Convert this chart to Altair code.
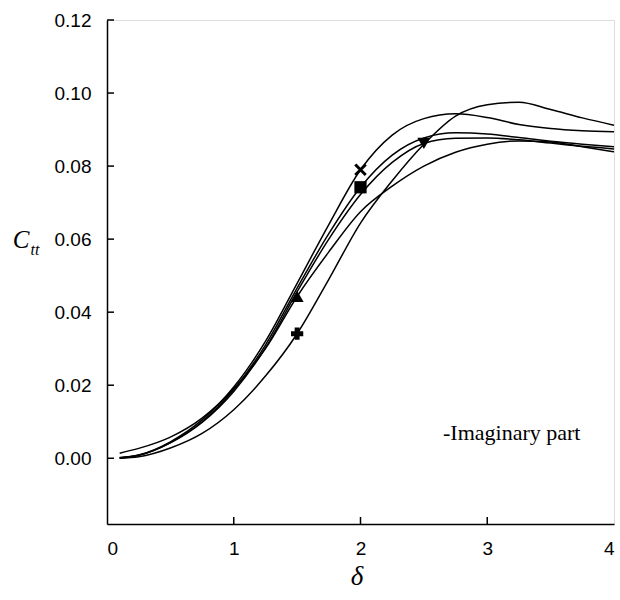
import altair as alt
import pandas as pd

# delta positions at which the curve values were read
x_grid = [0.1, 0.25, 0.5, 0.75, 1.0, 1.25, 1.5, 1.75, 2.0, 2.25, 2.5, 2.75, 3.0, 3.25, 3.5, 3.75, 4.0]

# curve values (Ctt) for each series
c_times = [0.0002, 0.0009, 0.0045, 0.0105, 0.0195, 0.0320, 0.0479, 0.0640, 0.0790, 0.0885, 0.0930, 0.0943, 0.0933, 0.0914, 0.0903, 0.0897, 0.0894]
c_square = [0.0001, 0.0008, 0.0043, 0.0100, 0.0188, 0.0310, 0.0466, 0.0615, 0.0742, 0.0830, 0.0877, 0.0891, 0.0888, 0.0878, 0.0868, 0.0860, 0.0853]
c_down = [0.0001, 0.0008, 0.0042, 0.0098, 0.0183, 0.0302, 0.0456, 0.0600, 0.0722, 0.0810, 0.0862, 0.0876, 0.0877, 0.0872, 0.0863, 0.0854, 0.0847]
c_up = [0.0014, 0.0027, 0.0058, 0.0110, 0.0190, 0.0300, 0.0443, 0.0565, 0.0675, 0.0745, 0.0800, 0.0838, 0.0860, 0.0869, 0.0866, 0.0853, 0.0839]
c_plus = [0.0000, 0.0004, 0.0028, 0.0068, 0.0133, 0.0225, 0.0341, 0.0490, 0.0644, 0.0760, 0.0860, 0.0937, 0.0968, 0.0975, 0.0955, 0.0932, 0.0912]

series_names = ["times", "square", "down", "up", "plus"]
series_vals = [c_times, c_square, c_down, c_up, c_plus]

# one marker per curve
marker_names = ["times", "square", "up", "down", "plus"]
marker_x = [2.0, 2.0, 1.5, 2.5, 1.5]
marker_y = [0.079, 0.0742, 0.0443, 0.0862, 0.0341]

x_ticks = [0, 1, 2, 3, 4]
y_ticks = [0.0, 0.02, 0.04, 0.06, 0.08, 0.10, 0.12]

W, H = 507, 504

rows = []
for name, vals in zip(series_names, series_vals):
    for xv, yv in zip(x_grid, vals):
        rows.append({"s": name, "x": xv, "y": yv})
lines_df = pd.DataFrame(rows)
mk_df = pd.DataFrame({"s": marker_names, "x": marker_x, "y": marker_y})

xs = alt.Scale(domain=[0, 4], nice=False)
ys = alt.Scale(domain=[-0.018, 0.12], nice=False, zero=False)

xaxis = alt.Axis(values=x_ticks, ticks=False, grid=False, title=None, format="d", labelFont="Liberation Sans",
                 labelFontSize=19, labelColor="black", labelPadding=15, domainColor="black", domainWidth=1.5)
yaxis = alt.Axis(values=y_ticks, ticks=False, grid=False, title=None, format=".2f", labelFont="Liberation Sans",
                 labelFontSize=19, labelColor="black", labelPadding=16, domainColor="black", domainWidth=1.5)

lines = alt.Chart(lines_df).mark_line(color="black", strokeWidth=1.5, interpolate="monotone").encode(
    x=alt.X("x:Q", scale=xs, axis=xaxis),
    y=alt.Y("y:Q", scale=ys, axis=yaxis),
    detail="s:N",
)

def marker(name, **kw):
    return alt.Chart(mk_df).transform_filter(alt.datum.s == name).mark_point(**kw).encode(
        x=alt.X("x:Q", scale=xs), y=alt.Y("y:Q", scale=ys))

m_times = marker("times", shape="M-1,-1L1,1M-1,1L1,-1", filled=False, stroke="black", strokeWidth=3, size=110, opacity=1)
m_square = marker("square", shape="square", filled=True, color="black", size=150, opacity=1)
m_up = marker("up", shape="triangle-up", filled=True, color="black", size=170, opacity=1)
m_down = marker("down", shape="triangle-down", filled=True, color="black", size=170, opacity=1)
m_plus = marker("plus", shape="cross", filled=True, color="black", size=150, opacity=1)

ytick_df = pd.DataFrame({"v": y_ticks})
xtick_df = pd.DataFrame({"v": x_ticks[1:-1]})
yt = alt.Chart(ytick_df).mark_rule(color="black", strokeWidth=1.5).encode(
    y=alt.Y("v:Q", scale=ys), x=alt.value(0), x2=alt.value(7))
xt = alt.Chart(xtick_df).mark_rule(color="black", strokeWidth=1.5).encode(
    x=alt.X("v:Q", scale=xs), y=alt.value(H), y2=alt.value(H - 7))

def label(txt, px, py, size, style="italic", align="center"):
    return alt.Chart(pd.DataFrame({"t": [txt]})).mark_text(
        font="Liberation Serif", fontSize=size, fontStyle=style, color="black", align=align, baseline="middle"
    ).encode(text="t:N", x=alt.value(px), y=alt.value(py))

t_c = label("C", -86, 220, 25)
t_tt = label("tt", -72, 230, 16)
t_delta = label("δ", 250, 557, 27)
t_note = label("-Imaginary part", 336, 413, 22, style="normal", align="left")

chart = alt.layer(lines, m_times, m_square, m_up, m_down, m_plus, yt, xt, t_c, t_tt, t_delta, t_note).properties(
    width=W, height=H,
    autosize=alt.AutoSizeParams(type="none"),
    padding={"left": 107, "top": 20, "right": 6, "bottom": 76},
).configure_view(stroke="black", strokeWidth=1.5).configure(background="white")

chart.save("out.html", embed_options={"renderer": "svg", "actions": False})
